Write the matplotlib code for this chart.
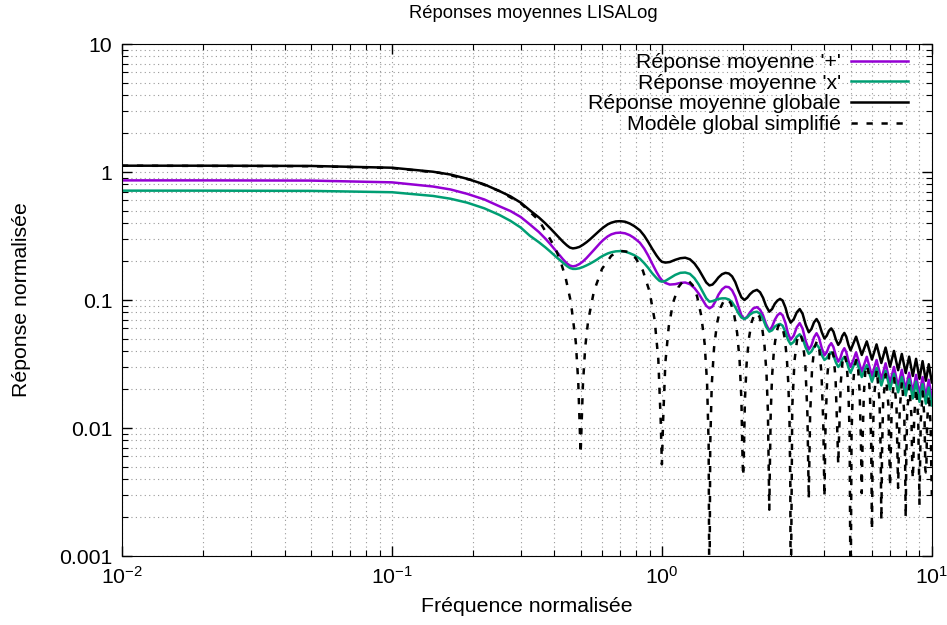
import numpy as np
import matplotlib
matplotlib.use('Agg')
import matplotlib.pyplot as plt
from matplotlib.ticker import LogLocator, NullFormatter

plt.rcParams['font.family'] = ['Liberation Sans', 'DejaVu Sans']
plt.rcParams['mathtext.fontset'] = 'custom'
plt.rcParams['mathtext.rm'] = 'Liberation Sans'
plt.rcParams['mathtext.it'] = 'Liberation Sans:italic'

# frequency grid for the three averaged responses
freq = [0.01, 0.02, 0.05, 0.1, 0.142, 0.165, 0.19, 0.22, 0.25, 0.275,
        0.3, 0.324, 0.35, 0.37, 0.385, 0.41, 0.431, 0.445, 0.456, 0.468,
        0.48, 0.495, 0.51, 0.525, 0.541, 0.56, 0.575, 0.59, 0.606, 0.63,
        0.65, 0.675, 0.7, 0.73, 0.76, 0.79, 0.829, 0.86, 0.89, 0.92,
        0.956, 0.98, 1.0, 1.03, 1.07, 1.12, 1.17, 1.22, 1.27, 1.32,
        1.37, 1.42, 1.46, 1.5, 1.54, 1.58, 1.62, 1.67, 1.72, 1.77,
        1.82, 1.87, 1.92, 1.97, 2.02, 2.07, 2.12, 2.18, 2.25, 2.31,
        2.37, 2.43, 2.5, 2.56, 2.62, 2.68, 2.74, 2.8, 2.87, 2.93,
        3.0, 3.08, 3.16, 3.24, 3.32, 3.41, 3.5,
        3.58, 3.66, 3.74, 3.82, 3.91, 4.0,
        4.08, 4.16, 4.24, 4.32, 4.41, 4.5,
        4.58, 4.66, 4.74, 4.82, 4.91, 5.0,
        5.12, 5.24, 5.37, 5.5, 5.62, 5.74, 5.87, 6.0,
        6.12, 6.24, 6.37, 6.5, 6.62, 6.74, 6.87, 7.0,
        7.12, 7.24, 7.37, 7.5, 7.62, 7.74, 7.87, 8.0,
        8.12, 8.24, 8.37, 8.5, 8.62, 8.74, 8.87, 9.0,
        9.12, 9.24, 9.37, 9.5, 9.62, 9.74, 9.87, 10.0]

resp_plus = [0.86, 0.86, 0.857, 0.83, 0.77, 0.73, 0.675, 0.61, 0.54, 0.495,
             0.445, 0.39, 0.34, 0.302, 0.275, 0.235, 0.207, 0.193, 0.186, 0.183,
             0.185, 0.191, 0.2, 0.212, 0.227, 0.246, 0.262, 0.278, 0.294, 0.314,
             0.326, 0.334, 0.336, 0.332, 0.321, 0.305, 0.28, 0.252, 0.222, 0.193,
             0.165, 0.151, 0.143, 0.136, 0.132, 0.133, 0.136, 0.137, 0.133, 0.124,
             0.112, 0.099, 0.09, 0.086, 0.089, 0.098, 0.11, 0.121, 0.127, 0.126,
             0.119, 0.106, 0.089, 0.076, 0.071, 0.074, 0.08, 0.086, 0.088, 0.084,
             0.076, 0.065, 0.0575, 0.062, 0.07, 0.076, 0.079, 0.076, 0.066, 0.055,
             0.049, 0.0528, 0.0613, 0.066, 0.0598, 0.0478, 0.041,
             0.0441, 0.0511, 0.055, 0.0506, 0.042, 0.037,
             0.0391, 0.0436, 0.046, 0.0429, 0.0367, 0.033,
             0.0351, 0.0395, 0.042, 0.0391, 0.0334, 0.030,
             0.034, 0.039, 0.0327, 0.0275, 0.0315, 0.036, 0.0303, 0.0255,
             0.0294, 0.034, 0.0286, 0.024, 0.0277, 0.032, 0.0268, 0.0225,
             0.026, 0.030, 0.0251, 0.021, 0.0245, 0.0285, 0.0239, 0.020,
             0.0232, 0.027, 0.0226, 0.019, 0.0222, 0.026, 0.0217, 0.0182,
             0.0213, 0.025, 0.0209, 0.0175, 0.0203, 0.0238, 0.02, 0.017]

resp_cross = [0.715, 0.715, 0.712, 0.695, 0.65, 0.618, 0.576, 0.52, 0.462, 0.415,
              0.368, 0.318, 0.283, 0.258, 0.24, 0.213, 0.195, 0.184, 0.178, 0.175,
              0.175, 0.177, 0.181, 0.186, 0.192, 0.2, 0.207, 0.215, 0.222, 0.231,
              0.236, 0.24, 0.241, 0.239, 0.232, 0.224, 0.21, 0.194, 0.178, 0.162,
              0.148, 0.141, 0.139, 0.141, 0.148, 0.157, 0.163, 0.164, 0.16, 0.148,
              0.132, 0.115, 0.103, 0.097, 0.098, 0.1, 0.102, 0.103, 0.103, 0.101,
              0.096, 0.088, 0.079, 0.073, 0.071, 0.073, 0.077, 0.08, 0.081, 0.078,
              0.071, 0.062, 0.0566, 0.058, 0.062, 0.064, 0.065, 0.063, 0.056, 0.049,
              0.045, 0.0471, 0.0516, 0.054, 0.0502, 0.0425, 0.038,
              0.0396, 0.0431, 0.045, 0.0424, 0.0372, 0.034,
              0.0352, 0.0377, 0.039, 0.0369, 0.0326, 0.030,
              0.0314, 0.0344, 0.036, 0.0339, 0.0296, 0.027,
              0.0303, 0.034, 0.0292, 0.025, 0.028, 0.031, 0.0267, 0.023,
              0.026, 0.0295, 0.0252, 0.0215, 0.0245, 0.028, 0.0237, 0.020,
              0.023, 0.0265, 0.0224, 0.019, 0.0218, 0.025, 0.0212, 0.018,
              0.0208, 0.024, 0.0202, 0.017, 0.0198, 0.023, 0.0192, 0.016,
              0.0188, 0.022, 0.0185, 0.0155, 0.0178, 0.0207, 0.0176, 0.015]

resp_global = [1.12, 1.12, 1.115, 1.08, 1.005, 0.955, 0.885, 0.80, 0.71, 0.645,
               0.576, 0.503, 0.442, 0.397, 0.365, 0.317, 0.284, 0.267, 0.257, 0.253,
               0.255, 0.26, 0.27, 0.282, 0.297, 0.317, 0.334, 0.351, 0.368, 0.39,
               0.402, 0.411, 0.413, 0.409, 0.396, 0.378, 0.35, 0.318, 0.284, 0.252,
               0.222, 0.207, 0.199, 0.196, 0.198, 0.206, 0.212, 0.214, 0.208, 0.193,
               0.173, 0.152, 0.137, 0.13, 0.132, 0.14, 0.15, 0.159, 0.163, 0.161,
               0.153, 0.138, 0.119, 0.105, 0.1, 0.104, 0.111, 0.117, 0.12, 0.115,
               0.104, 0.09, 0.081, 0.085, 0.0935, 0.099, 0.102, 0.099, 0.087, 0.074,
               0.0665, 0.0708, 0.0801, 0.085, 0.0781, 0.064, 0.056,
               0.0593, 0.0669, 0.071, 0.066, 0.0561, 0.05,
               0.0526, 0.0576, 0.06, 0.0566, 0.0491, 0.0446,
               0.0471, 0.0524, 0.0553, 0.0517, 0.0446, 0.0404,
               0.0457, 0.0517, 0.0438, 0.0372, 0.042, 0.0475, 0.0404, 0.0343,
               0.0393, 0.045, 0.0381, 0.0322, 0.037, 0.0425, 0.0358, 0.0301,
               0.0347, 0.040, 0.0336, 0.0283, 0.0328, 0.0379, 0.0319, 0.0269,
               0.0312, 0.0361, 0.0303, 0.0255, 0.0298, 0.0347, 0.029, 0.0242,
               0.0284, 0.0333, 0.0279, 0.0234, 0.027, 0.0315, 0.0266, 0.0227]

# simplified global model (dashed), one lobe per line
freq_model = [0.01, 0.05, 0.1, 0.15, 0.2, 0.25, 0.3, 0.35, 0.4, 0.42, 0.44, 0.46, 0.48, 0.49, 0.5,
              0.51, 0.52, 0.533, 0.56, 0.6, 0.65, 0.7, 0.75, 0.8, 0.85, 0.9, 0.94, 0.97, 0.99, 1.0,
              1.01, 1.03, 1.06, 1.1, 1.15, 1.2, 1.25, 1.3, 1.35, 1.4, 1.44, 1.47, 1.49, 1.5,
              1.51, 1.53, 1.56, 1.6, 1.65, 1.7, 1.75, 1.8, 1.85, 1.9, 1.94, 1.97, 1.99, 2.0,
              2.01, 2.03, 2.06, 2.1, 2.15, 2.2, 2.25, 2.3, 2.35, 2.4, 2.44, 2.47, 2.49, 2.5,
              2.51, 2.53, 2.56, 2.6, 2.65, 2.7, 2.75, 2.8, 2.85, 2.9, 2.94, 2.97, 2.99, 3.0,
              3.04, 3.1, 3.17, 3.25, 3.33, 3.4, 3.46, 3.5,
              3.54, 3.6, 3.67, 3.75, 3.83, 3.9, 3.96, 4.0,
              4.04, 4.1, 4.17, 4.25, 4.33, 4.4, 4.46, 4.5,
              4.54, 4.6, 4.67, 4.75, 4.83, 4.9, 4.96, 5.0,
              5.04, 5.1, 5.17, 5.25, 5.33, 5.4, 5.46, 5.5,
              5.54, 5.6, 5.67, 5.75, 5.83, 5.9, 5.96, 6.0,
              6.04, 6.1, 6.25, 6.4, 6.46, 6.5,
              6.54, 6.6, 6.75, 6.9, 6.96, 7.0,
              7.04, 7.1, 7.25, 7.4, 7.46, 7.5,
              7.54, 7.6, 7.75, 7.9, 7.96, 8.0,
              8.04, 8.1, 8.25, 8.4, 8.46, 8.5,
              8.54, 8.6, 8.75, 8.9, 8.96, 9.0,
              9.04, 9.1, 9.25, 9.4, 9.46, 9.5,
              9.54, 9.6, 9.75, 9.9, 9.96, 10.0]

resp_model = [1.12, 1.11, 1.075, 0.985, 0.86, 0.71, 0.57, 0.42, 0.262, 0.205, 0.149, 0.0966, 0.0465, 0.0228, 0.0063,
              0.022, 0.0429, 0.0687, 0.117, 0.175, 0.222, 0.242, 0.238, 0.212, 0.17, 0.1165, 0.0698, 0.0344, 0.0113, 0.0052,
              0.0111, 0.0324, 0.0619, 0.0953, 0.1254, 0.1413, 0.1426, 0.1305, 0.1069, 0.0749, 0.0456, 0.0227, 0.0075, 0.0003,
              0.0074, 0.0218, 0.0421, 0.0655, 0.0874, 0.0997, 0.1019, 0.0942, 0.078, 0.0552, 0.0338, 0.0169, 0.0056, 0.0042,
              0.0056, 0.0164, 0.0319, 0.0499, 0.0671, 0.0771, 0.0792, 0.0737, 0.0614, 0.0437, 0.0269, 0.0135, 0.0045, 0.0023,
              0.0045, 0.0132, 0.0256, 0.0403, 0.0544, 0.0628, 0.0648, 0.0606, 0.0506, 0.0362, 0.0223, 0.0112, 0.0037, 0.0003,
              0.0146, 0.0338, 0.0493, 0.0549, 0.0469, 0.0308, 0.0128, 0.0028,
              0.0126, 0.0291, 0.0425, 0.0475, 0.0408, 0.0269, 0.0112, 0.0029,
              0.011, 0.0256, 0.0375, 0.042, 0.0361, 0.0238, 0.01, 0.0052,
              0.0098, 0.0228, 0.0334, 0.0375, 0.0323, 0.0214, 0.009, 0.0003,
              0.0088, 0.0206, 0.0302, 0.034, 0.0293, 0.0194, 0.0081, 0.0031,
              0.008, 0.0187, 0.0275, 0.031, 0.0268, 0.0178, 0.0075, 0.0016,
              0.0073, 0.0172, 0.0285, 0.0164, 0.0069, 0.0019,
              0.0068, 0.0159, 0.0264, 0.0152, 0.0064, 0.0035,
              0.0063, 0.0148, 0.0246, 0.0142, 0.0059, 0.0034,
              0.0059, 0.0138, 0.023, 0.0133, 0.0056, 0.002,
              0.0055, 0.0129, 0.0216, 0.0125, 0.0053, 0.004,
              0.0052, 0.0122, 0.0204, 0.0118, 0.005, 0.0025,
              0.0049, 0.0115, 0.0193, 0.0112, 0.0047, 0.0045,
              0.0047, 0.0109, 0.0183, 0.0106, 0.0045, 0.003]

labels = ["Réponse moyenne '+'", "Réponse moyenne 'x'",
          "Réponse moyenne globale", "Modèle global simplifié"]
x_ticks = [0.01, 0.1, 1, 10]
x_tick_labels = ['$10^{-2}$', '$10^{-1}$', '$10^{0}$', '$10^{1}$']
y_ticks = [0.001, 0.01, 0.1, 1, 10]
y_tick_labels = ['0.001', '0.01', '0.1', '1', '10']

fs = 15.3

fig = plt.figure(figsize=(9.47, 6.25), dpi=100)
ax = fig.add_axes([0.1288, 0.1104, 0.8552, 0.8192])

ax.plot(freq, resp_plus, color='#9400d3', lw=1.8, label=labels[0])
ax.plot(freq, resp_cross, color='#009e73', lw=1.8, label=labels[1])
ax.plot(freq, resp_global, color='black', lw=1.8, label=labels[2])
ax.plot(freq_model, resp_model, color='black', lw=1.8, linestyle=(0, (2.5, 3.5)), label=labels[3])

ax.set_xscale('log')
ax.set_yscale('log')
ax.set_xlim(0.01, 10)
ax.set_ylim(0.001, 10)
ax.set_xticks(x_ticks, x_tick_labels)
ax.set_yticks(y_ticks, y_tick_labels)
ax.xaxis.set_minor_locator(LogLocator(base=10, subs=np.arange(2, 10)))
ax.yaxis.set_minor_locator(LogLocator(base=10, subs=np.arange(2, 10)))
ax.xaxis.set_minor_formatter(NullFormatter())
ax.yaxis.set_minor_formatter(NullFormatter())
ax.tick_params(which='both', direction='in', top=True, right=True, labelsize=fs)
ax.tick_params(which='major', length=7, width=1)
ax.tick_params(which='minor', length=4, width=0.8)
ax.tick_params(axis='x', pad=7)
ax.tick_params(axis='y', pad=7)
ax.grid(True, which='both', linestyle=(0, (1, 3)), color='#999999', linewidth=0.8)

ax.set_xlabel('Fréquence normalisée', fontsize=fs, labelpad=7)
ax.set_ylabel('Réponse normalisée', fontsize=fs, labelpad=20)
fig.text(0.563, 1 - 14 / 625, 'Réponses moyennes LISALog', ha='center', va='center', fontsize=13.2)

ax.legend(loc='upper right', bbox_to_anchor=(908 / 947, 1 - 53 / 625), bbox_transform=fig.transFigure,
          frameon=False, markerfirst=False, fontsize=fs, handlelength=2.7, handletextpad=0.45,
          labelspacing=0.08, borderpad=0, borderaxespad=0)

fig.savefig('out.png', dpi=100)
